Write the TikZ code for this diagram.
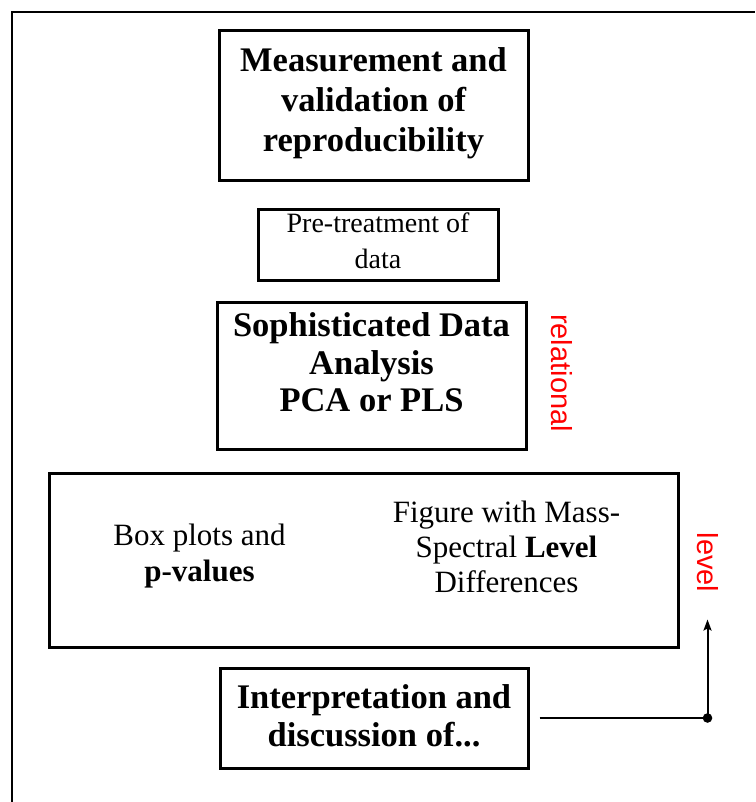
\documentclass[tikz,border=0pt]{standalone}
\usepackage{fontspec}
\setmainfont{Liberation Serif}
\newfontfamily\labelfont{Liberation Sans}
\usetikzlibrary{arrows.meta}
\begin{document}
\begin{tikzpicture}[x=1pt,y=-1pt,
  box/.style={draw=black, line width=3pt, inner sep=0pt},
  txt/.style={align=center, inner sep=0pt},
  title/.style={txt, font=\fontsize{34.5}{#1}\selectfont\bfseries},
  body/.style={txt, font=\fontsize{31}{#1}\selectfont},
  redlabel/.style={font=\fontsize{29}{34}\selectfont\labelfont, text=red, rotate=-90, inner sep=0pt},
  conn/.style={line width=2pt},
  tip/.style={-{Stealth[length=11pt,width=8pt,inset=2pt]}}
]
\useasboundingbox (0,0) rectangle (755,802);
% outer frame (cropped)
\draw[line width=2.8pt] (12,802) -- (12,12) -- (755,12);

% box 1
\node[box, minimum width=309pt, minimum height=150pt] (b1) at (373.5,106) {};
\node[title=40] (t1) at (373.5,103.7) {Measurement and\\validation of\\reproducibility};

% box 2
\node[box, minimum width=240pt, minimum height=71pt] (b2) at (378,245) {};
\node[txt, font=\fontsize{28}{36}\selectfont] (t2) at (378,240.5) {Pre-treatment of\\data};

% box 3
\node[box, minimum width=309pt, minimum height=147pt] (b3) at (371.5,375.5) {};
\node[title=37.5] (t3) at (371.5,362.6) {Sophisticated Data\\Analysis\\PCA or PLS};

% box 4
\node[box, minimum width=629pt, minimum height=174pt] (b4) at (363.5,560) {};
\node[body=36.7] (t4a) at (199.5,556.1) {Box plots and\\\textbf{p-values}};
\node[body=35] (t4b) at (506.5,546.4) {Figure with Mass-\\Spectral \textbf{Level}\\Differences};

% box 5
\node[box, minimum width=308pt, minimum height=100pt] (b5) at (374,718) {};
\node[title=38.4] (t5) at (374,715.6) {Interpretation and\\discussion of...};

% red labels
\node[redlabel] (rel) at (561.5,373) {relational};
\node[redlabel] (lev) at (707.5,562.5) {level};

% connector
\coordinate (dot) at (707.5,718);
\coordinate (top) at (707.5,619.5);
\draw[conn] ([xshift=10pt]b5.east) -- (dot);
\draw[conn, tip] (dot) -- (top);
\fill (dot) circle (4.8pt);
\end{tikzpicture}
\end{document}
